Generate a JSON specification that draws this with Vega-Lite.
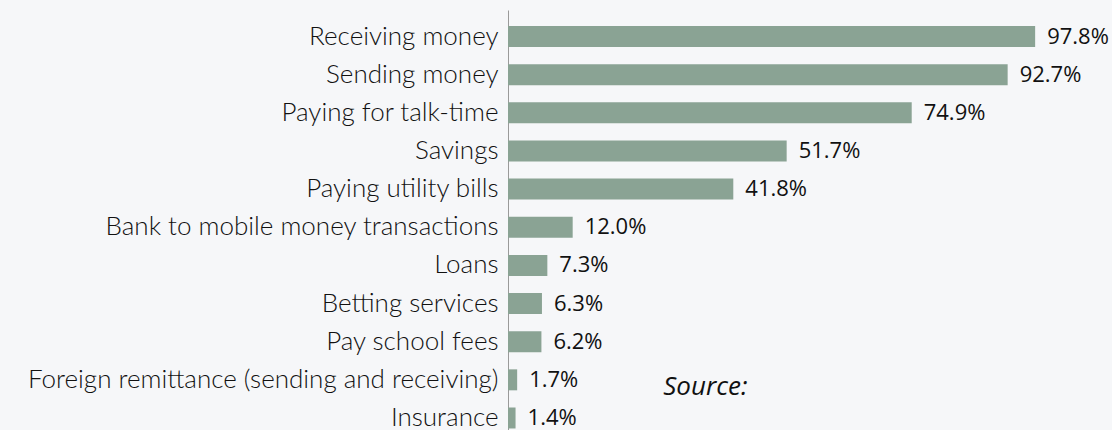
{
  "$schema": "https://vega.github.io/schema/vega-lite/v6.json",
  "width": 539,
  "height": 420,
  "autosize": {"type": "none"},
  "padding": {"left": 508, "top": 10, "right": 65, "bottom": 0},
  "background": "#f6f7f9",
  "config": {"view": {"stroke": null}},
  "data": {
    "values": [
      {"category": "Receiving money", "value": 97.8, "label": "97.8%"},
      {"category": "Sending money", "value": 92.7, "label": "92.7%"},
      {"category": "Paying for talk-time", "value": 74.9, "label": "74.9%"},
      {"category": "Savings", "value": 51.7, "label": "51.7%"},
      {"category": "Paying utility bills", "value": 41.8, "label": "41.8%"},
      {"category": "Bank to mobile money transactions", "value": 12.0, "label": "12.0%"},
      {"category": "Loans", "value": 7.3, "label": "7.3%"},
      {"category": "Betting services", "value": 6.3, "label": "6.3%"},
      {"category": "Pay school fees", "value": 6.2, "label": "6.2%"},
      {"category": "Foreign remittance (sending and receiving)", "value": 1.7, "label": "1.7%"},
      {"category": "Insurance", "value": 1.4, "label": "1.4%"}
    ]
  },
  "encoding": {
    "y": {
      "field": "category",
      "type": "nominal",
      "sort": null,
      "scale": {"range": [0, 434.5], "paddingInner": 0.45, "paddingOuter": 0.42},
      "axis": {
        "title": null,
        "ticks": false,
        "labelPadding": 10,
        "labelFont": "Lato",
        "labelFontSize": 26,
        "labelFontWeight": 300,
        "labelColor": "#111111",
        "labelLimit": 600,
        "domainColor": "#9a9a9a",
        "domainWidth": 1
      }
    }
  },
  "layer": [
    {
      "mark": {"type": "bar", "color": "#8aa394"},
      "encoding": {
        "x": {"field": "value", "type": "quantitative", "scale": {"domain": [0, 100], "nice": false}, "axis": null}
      }
    },
    {
      "mark": {"type": "text", "align": "left", "baseline": "middle", "dx": 12, "font": "Open Sans", "fontSize": 22, "color": "#111111"},
      "encoding": {
        "x": {"field": "value", "type": "quantitative"},
        "text": {"field": "label"}
      }
    },
    {
      "data": {"values": [{"category": "Foreign remittance (sending and receiving)", "value": 28.8, "note": "Source:"}]},
      "mark": {"type": "text", "align": "left", "baseline": "middle", "dy": 7, "font": "Open Sans", "fontStyle": "italic", "fontSize": 26, "color": "#111111"},
      "encoding": {
        "x": {"field": "value", "type": "quantitative"},
        "text": {"field": "note"}
      }
    }
  ]
}
